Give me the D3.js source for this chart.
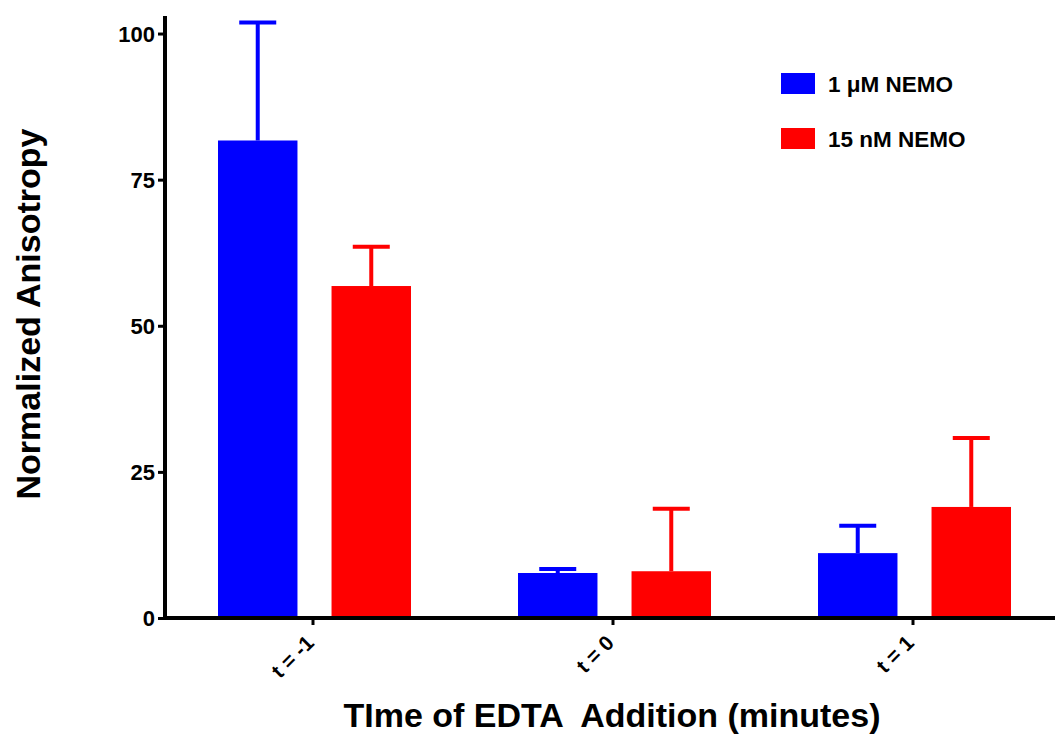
<!DOCTYPE html>
<html><head><meta charset="utf-8">
<script src="https://cdn.jsdelivr.net/npm/d3@7"></script>
<style>body{margin:0;background:#fff}text{font-family:"Liberation Sans",Arial,sans-serif;font-weight:bold}</style>
</head><body><svg id="c" width="1055" height="734"></svg>
<script>
const categories = ["t = -1", "t = 0", "t = 1"];
const seriesNames = ["1 \u03bcM NEMO", "15 nM NEMO"];
const seriesColors = ["#0000ff", "#ff0000"];
const blueMean = [81.7, 7.7, 11.1];
const blueErr = [20.2, 0.7, 4.7];
const redMean = [56.8, 8.0, 19.0];
const redErr = [6.7, 10.7, 11.8];
const yTicks = [0, 25, 50, 75, 100];

const svg = d3.select("#c");
const x = d3.scaleBand().domain(categories).range([163, 1063]);
const y = d3.scaleLinear().domain([0, 103]).range([618, 16]);
const sub = d3.scaleBand().domain([0,1]).range([-95, 98]).paddingInner(0.3);

const series = [
  {vals: blueMean, errs: blueErr, color: seriesColors[0]},
  {vals: redMean, errs: redErr, color: seriesColors[1]}
];
series.forEach((s, si) => {
  const g = svg.append("g");
  categories.forEach((c, i) => {
    const cx = x(c) + x.bandwidth()/2;
    const bx = cx + sub(si);
    const bw = sub.bandwidth();
    const mid = bx + bw/2;
    g.append("line").attr("x1", mid).attr("x2", mid)
      .attr("y1", y(s.vals[i])).attr("y2", y(s.vals[i] + s.errs[i]))
      .attr("stroke", s.color).attr("stroke-width", 4);
    g.append("line").attr("x1", mid - 18.5).attr("x2", mid + 18.5)
      .attr("y1", y(s.vals[i] + s.errs[i])).attr("y2", y(s.vals[i] + s.errs[i]))
      .attr("stroke", s.color).attr("stroke-width", 4);
    g.append("rect").attr("x", bx).attr("width", bw)
      .attr("y", y(s.vals[i])).attr("height", y(0) - y(s.vals[i]))
      .attr("fill", s.color);
  });
});

// Y axis
const ya = svg.append("g").attr("transform", "translate(165,0)")
  .call(d3.axisLeft(y).tickValues(yTicks).tickSize(7).tickPadding(3));
ya.select(".domain").remove();
ya.selectAll(".tick line").attr("stroke-width", 3);
ya.selectAll(".tick text").attr("font-size", 22).attr("fill", "#000").attr("dy", "0.36em");
svg.append("line").attr("x1", 165).attr("x2", 165).attr("y1", 16).attr("y2", 620)
  .attr("stroke", "#000").attr("stroke-width", 4);

// X axis
const xa = svg.append("g").attr("transform", "translate(0,618)")
  .call(d3.axisBottom(x).tickSize(7).tickPadding(4));
xa.select(".domain").remove();
xa.selectAll(".tick line").attr("stroke-width", 3);
xa.selectAll(".tick text").attr("font-size", 21).attr("fill", "#000")
  .attr("text-anchor", "end").attr("y", 0).attr("dy", "0.35em")
  .attr("transform", "translate(-3,21) rotate(-45)");
svg.append("line").attr("x1", 163).attr("x2", 1055).attr("y1", 618).attr("y2", 618)
  .attr("stroke", "#000").attr("stroke-width", 4);

// Titles
svg.append("text").attr("transform", "translate(40,314) rotate(-90)")
  .attr("text-anchor", "middle").attr("font-size", 34).text("Normalized Anisotropy");
svg.append("text").attr("x", 612).attr("y", 727).attr("text-anchor", "middle")
  .attr("font-size", 34).style("white-space", "pre").text("TIme of EDTA  Addition (minutes)");

// Legend
seriesNames.forEach((n, i) => {
  const ly = 73 + i * 55;
  svg.append("rect").attr("x", 781).attr("y", ly).attr("width", 34).attr("height", 21)
    .attr("fill", seriesColors[i]);
  svg.append("text").attr("x", 828).attr("y", ly + 19).attr("font-size", 22.5).text(n);
});
</script></body></html>
